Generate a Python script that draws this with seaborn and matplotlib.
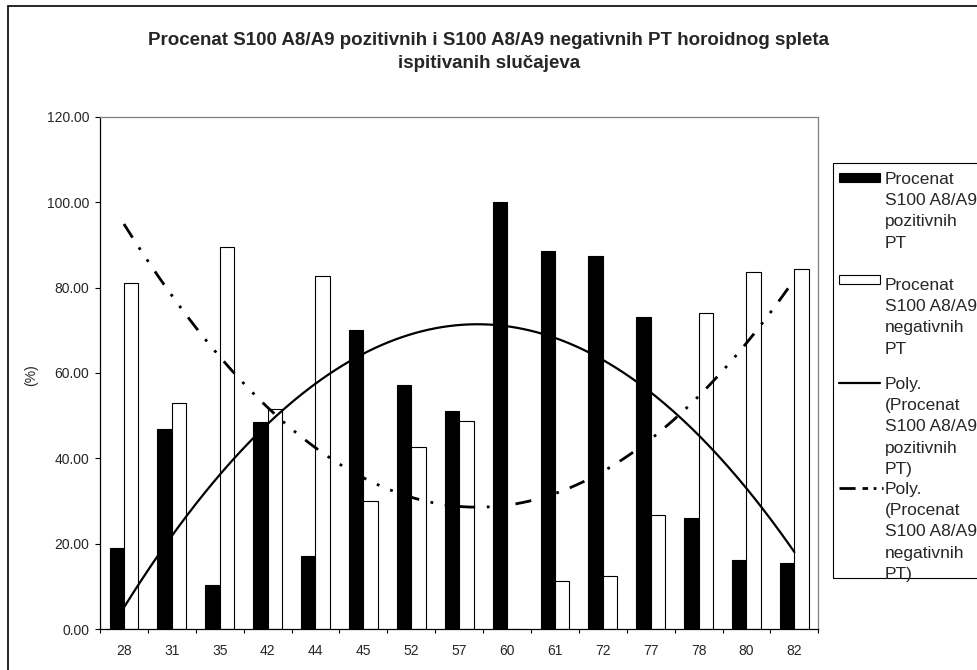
import numpy as np
import pandas as pd
import matplotlib
matplotlib.use("Agg")
import matplotlib.pyplot as plt
from matplotlib.patches import Rectangle
from matplotlib.lines import Line2D
from matplotlib.ticker import FixedLocator, NullFormatter, FormatStrFormatter
import seaborn as sns

# ---- data -------------------------------------------------------------
ages = ["28", "31", "35", "42", "44", "45", "52", "57", "60",
        "61", "72", "77", "78", "80", "82"]
positive = [19.0, 47.0, 10.4, 48.5, 17.2, 70.0, 57.3, 51.2, 100.0,
            88.6, 87.5, 73.2, 26.0, 16.3, 15.6]
negative = [81.0, 53.0, 89.6, 51.5, 82.8, 30.0, 42.7, 48.8, 0.0,
            11.4, 12.5, 26.8, 74.0, 83.7, 84.4]
series_pos = "Procenat S100 A8/A9 pozitivnih PT"
series_neg = "Procenat S100 A8/A9 negativnih PT"
title = ("Procenat S100 A8/A9 pozitivnih i S100 A8/A9 negativnih PT horoidnog spleta\n"
         "ispitivanih slučajeva")
y_label = "(%)"
y_ticks = [0, 20, 40, 60, 80, 100, 120]
legend_lines = [
    ["Procenat", "S100 A8/A9", "pozitivnih", "PT"],
    ["Procenat", "S100 A8/A9", "negativnih", "PT"],
    ["Poly.", "(Procenat", "S100 A8/A9", "pozitivnih", "PT)"],
    ["Poly.", "(Procenat", "S100 A8/A9", "negativnih", "PT)"],
]

df = pd.DataFrame({
    "age": ages * 2,
    "value": positive + negative,
    "series": [series_pos] * len(ages) + [series_neg] * len(ages),
})

# ---- figure -----------------------------------------------------------
sns.set_style("white")
plt.rcParams["font.family"] = ["Liberation Sans", "DejaVu Sans"]

W, H = 977, 670
fig = plt.figure(figsize=(W / 100, H / 100), dpi=100)


def fx(x):
    return x / W


def fy(y):
    return 1 - y / H


ax = fig.add_axes([fx(100), fy(629.3), fx(818.3) - fx(100), fy(116.7) - fy(629.3)])

sns.barplot(data=df, x="age", y="value", hue="series", order=ages,
            hue_order=[series_pos, series_neg], palette=["black", "white"],
            saturation=1, edgecolor="black", linewidth=0.8, width=0.6,
            errorbar=None, legend=False, ax=ax)

# second-order polynomial trend lines over the category index
idx = np.arange(1, len(ages) + 1)
xs = np.linspace(1, len(ages), 300)
fit_pos = np.polyval(np.polyfit(idx, positive, 2), xs)
fit_neg = np.polyval(np.polyfit(idx, negative, 2), xs)
dashdotdot = (0, (5.8, 4.2, 1.0, 4.2, 1.0, 4.2))
ax.plot(xs - 1, fit_pos, color="black", lw=1.6, zorder=5)
ax.plot(xs - 1, fit_neg, color="black", lw=2.0, ls=dashdotdot, zorder=5)

# axes
ax.set_xlim(-0.5, len(ages) - 0.5)
ax.set_ylim(0, 120)
ax.set_yticks(y_ticks)
ax.yaxis.set_major_formatter(FormatStrFormatter("%.2f"))
ax.tick_params(axis="y", which="major", direction="out", length=3.6, width=0.8,
               pad=4.3, labelsize=10, left=True, color="black")

ax.xaxis.set_major_locator(FixedLocator(np.arange(-0.5, len(ages), 1.0)))
ax.xaxis.set_major_formatter(NullFormatter())
ax.xaxis.set_minor_locator(FixedLocator(np.arange(len(ages))))
ax.set_xticklabels(ages, minor=True)
ax.tick_params(axis="x", which="major", direction="out", length=2.9, width=0.8,
               bottom=True, color="black")
ax.tick_params(axis="x", which="minor", length=0, pad=10.5, labelsize=10)
ax.set_xlabel("")
ax.set_ylabel(y_label, fontsize=10)
ax.yaxis.set_label_coords(-0.0863, 0.496)

for side in ["left", "bottom"]:
    ax.spines[side].set_color("black")
    ax.spines[side].set_linewidth(0.9)
for side in ["top", "right"]:
    ax.spines[side].set_visible(True)
    ax.spines[side].set_color("#808080")
    ax.spines[side].set_linewidth(0.9)

# title
fig.text(0.5005, fy(32), title, ha="center", va="top", fontsize=13.5,
         fontweight="bold", linespacing=1.5)

# outer chart border
fig.add_artist(Rectangle((fx(8), fy(700)), fx(1000) - fx(8), fy(6) - fy(700),
                         transform=fig.transFigure, fill=False,
                         edgecolor="black", lw=1.2, clip_on=False))

# legend box
fig.add_artist(Rectangle((fx(832.7), fy(578.3)), fx(1000) - fx(832.7),
                         fy(163.3) - fy(578.3), transform=fig.transFigure,
                         fill=False, edgecolor="black", lw=0.8, clip_on=False))
fig.add_artist(Rectangle((fx(839.3), fy(181.7)), fx(880) - fx(839.3),
                         fy(172.7) - fy(181.7), transform=fig.transFigure,
                         facecolor="black", edgecolor="black", lw=0.8))
fig.add_artist(Rectangle((fx(839.3), fy(284)), fx(880) - fx(839.3),
                         fy(275.3) - fy(284), transform=fig.transFigure,
                         facecolor="white", edgecolor="black", lw=0.8))
fig.add_artist(Line2D([fx(839), fx(880)], [fy(383.3), fy(383.3)],
                      transform=fig.transFigure, color="black", lw=1.6))
fig.add_artist(Line2D([fx(839), fx(883)], [fy(487.7), fy(487.7)],
                      transform=fig.transFigure, color="black", lw=2.0,
                      ls=(0, (5.8, 2.5, 2.0, 2.0, 1.0, 2.0))))

entry_tops = [178, 284, 383, 488]
step = 21.2
for top, lines in zip(entry_tops, legend_lines):
    for i, line in enumerate(lines):
        fig.text(fx(885), fy(top + 6 + i * step), line, ha="left",
                 va="baseline", fontsize=12.5)

fig.savefig("out.png", dpi=100)
